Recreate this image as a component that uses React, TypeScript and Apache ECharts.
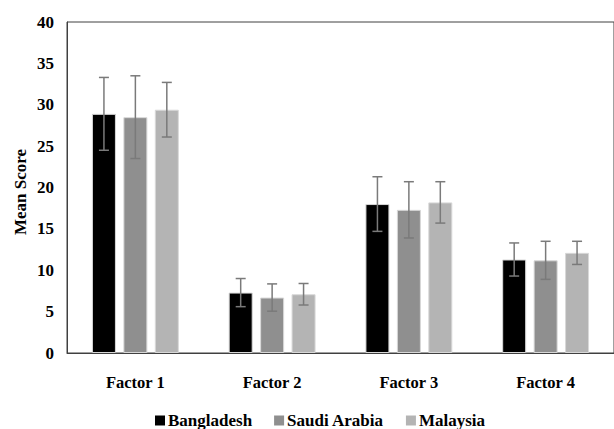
import React, { useEffect, useRef } from "react";
import * as echarts from "echarts";

const categories = ["Factor 1", "Factor 2", "Factor 3", "Factor 4"];
const seriesNames = ["Bangladesh", "Saudi Arabia", "Malaysia"];
const bangladesh = [28.9, 7.3, 18.0, 11.3];
const saudi = [28.5, 6.7, 17.3, 11.2];
const malaysia = [29.4, 7.1, 18.2, 12.1];
const bangladeshErr = [4.4, 1.7, 3.3, 2.0];
const saudiErr = [5.0, 1.65, 3.4, 2.3];
const malaysiaErr = [3.3, 1.3, 2.5, 1.4];
const yTicks = [0, 5, 10, 15, 20, 25, 30, 35, 40];
const yAxisTitle = "Mean Score";

const colors = ["#000000", "#8f8f8f", "#b4b4b4"];
const FONT = "Liberation Serif";

export default function App() {
  const ref = useRef<HTMLDivElement>(null);
  useEffect(() => {
    document.body.style.margin = "0";
    const chart = echarts.init(ref.current!, null, { renderer: "svg" });
    const values = [bangladesh, saudi, malaysia];
    const errs = [bangladeshErr, saudiErr, malaysiaErr];
    const barWidth = 24;
    const gapRatio = 0.31;
    const step = barWidth * (1 + gapRatio);
    const offsets = [-step, 0, step];

    const barSeries = values.map((v, i) => ({
      name: seriesNames[i],
      type: "bar",
      data: v,
      barWidth,
      barGap: "31%",
      itemStyle: { color: colors[i], borderColor: "#d8d8d8", borderWidth: 1 },
      z: 2,
    }));

    const errSeries = values.map((v, i) => ({
      name: seriesNames[i] + " error",
      type: "custom",
      data: v.map((val, j) => [j, val, errs[i][j]]),
      z: 5,
      silent: true,
      renderItem: (params: any, api: any) => {
        const idx = api.value(0);
        const val = api.value(1);
        const e = api.value(2);
        const top = api.coord([idx, val + e]);
        const bot = api.coord([idx, val - e]);
        const x = top[0] + offsets[i];
        const cap = 5;
        const style = { stroke: "#7a7a7a", lineWidth: 1.5 };
        return {
          type: "group",
          children: [
            { type: "line", shape: { x1: x, y1: top[1], x2: x, y2: bot[1] }, style },
            { type: "line", shape: { x1: x - cap, y1: top[1], x2: x + cap, y2: top[1] }, style },
            { type: "line", shape: { x1: x - cap, y1: bot[1], x2: x + cap, y2: bot[1] }, style },
          ],
        };
      },
    }));

    chart.setOption({
      animation: false,
      textStyle: { fontFamily: FONT },
      grid: {
        left: 67,
        top: 22,
        bottom: 76,
        right: -13,
        show: true,
        borderColor: "#404040",
        borderWidth: 1,
        backgroundColor: "transparent",
      },
      graphic: [
        {
          type: "text",
          x: 20,
          y: 192,
          rotation: Math.PI / 2,
          style: {
            text: yAxisTitle,
            fontFamily: FONT,
            fontWeight: "bold",
            fontSize: 17,
            fill: "#000",
            textAlign: "center",
            textVerticalAlign: "middle",
          },
        },
      ],
      legend: {
        data: seriesNames.map((n, i) => ({ name: n, itemStyle: { color: colors[i], borderWidth: 0 } })),
        left: 150,
        top: 407,
        itemWidth: 10,
        itemHeight: 10,
        itemGap: 22,
        icon: "rect",
        textStyle: { fontFamily: FONT, fontWeight: "bold", fontSize: 17, color: "#000", padding: [0, 0, 0, -2] },
      },
      xAxis: {
        type: "category",
        data: categories,
        axisLine: { lineStyle: { color: "#404040", width: 1 } },
        axisTick: { show: false },
        axisLabel: { fontFamily: FONT, fontWeight: "bold", fontSize: 16.5, color: "#000", margin: 21 },
      },
      yAxis: {
        type: "value",
        min: yTicks[0],
        max: yTicks[yTicks.length - 1],
        interval: 5,
        axisLine: { show: true, lineStyle: { color: "#404040", width: 1 } },
        axisTick: { show: false },
        splitLine: { show: false },
        axisLabel: { fontFamily: FONT, fontWeight: "bold", fontSize: 17, color: "#000", margin: 13 },
      },
      series: [...barSeries, ...errSeries],
    });
    return () => chart.dispose();
  }, []);
  return <div ref={ref} style={{ width: 614, height: 429 }} />;
}
